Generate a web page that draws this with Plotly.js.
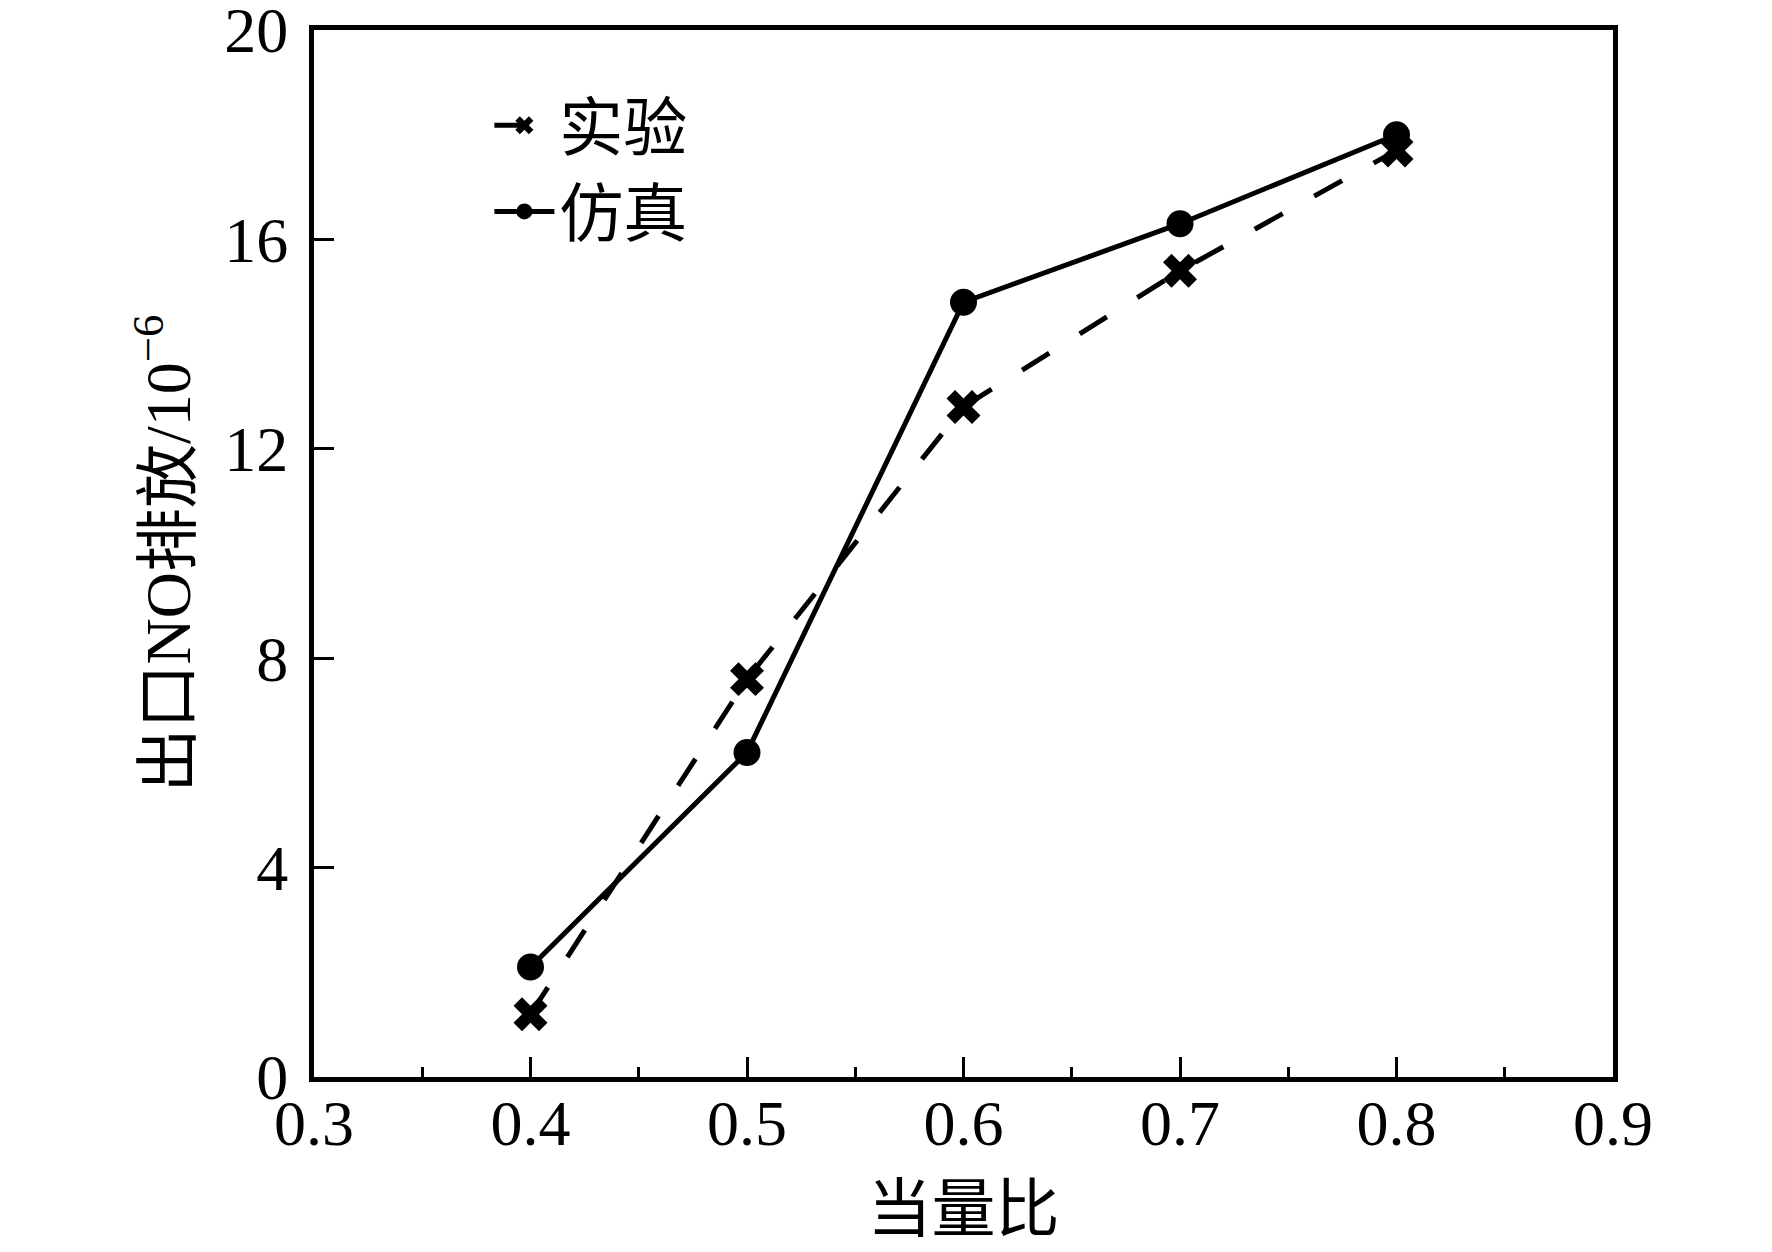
<!DOCTYPE html>
<html>
<head>
<meta charset="utf-8">
<script src="https://cdn.plot.ly/plotly-3.0.1.min.js"></script>
<style>
  html, body { margin: 0; padding: 0; background: #fff; }
  #chart { width: 1772px; height: 1252px; }
</style>
</head>
<body>
<div id="chart"></div>
<script>
// equivalence ratio vs outlet NO emission
const ratio = [0.4, 0.5, 0.6, 0.7, 0.8];
const expNO = [1.2, 7.6, 12.8, 15.4, 17.7];   // 实验
const simNO = [2.1, 6.2, 14.8, 16.3, 18.0];   // 仿真

const xTicks = [0.3, 0.4, 0.5, 0.6, 0.7, 0.8, 0.9];
const yTicks = [0, 4, 8, 12, 16, 20];

const fontFam = '"Liberation Serif", "Times New Roman", "Noto Sans CJK SC", serif';

let traceExp = {
    x: ratio,
    y: expNO,
    name: '实验',
    mode: 'lines+markers',
    line: { color: '#000', width: 5, dash: '32px,36px' },
    marker: { symbol: 'x', size: 30, color: '#000' }
};

let traceSim = {
    x: ratio,
    y: simNO,
    name: '仿真',
    mode: 'lines+markers',
    line: { color: '#000', width: 5 },
    marker: { symbol: 'circle', size: 27, color: '#000' }
};

let layout = {
    width: 1772,
    height: 1252,
    margin: { l: 314, r: 159, t: 30, b: 175 },
    paper_bgcolor: '#fff',
    plot_bgcolor: '#fff',
    font: { family: fontFam, size: 64, color: '#000' },
    showlegend: true,
    legend: {
        x: 0.135, y: 0.955,
        xanchor: 'left', yanchor: 'top',
        bgcolor: 'rgba(0,0,0,0)',
        font: { family: fontFam, size: 64, color: '#000' },
        tracegroupgap: 0,
        itemwidth: 60
    },
    xaxis: {
        range: [0.3, 0.9],
        tickvals: xTicks,
        ticktext: xTicks.map(v => v.toFixed(1)),
        ticks: 'inside',
        ticklen: 20,
        tickwidth: 3,
        tickcolor: '#000',
        minor: { dtick: 0.05, ticks: 'inside', ticklen: 10, tickwidth: 3, tickcolor: '#000' },
        showline: true,
        linewidth: 5,
        linecolor: '#000',
        mirror: true,
        showgrid: false,
        zeroline: false,
        ticklabelstandoff: -14,
        ticklabeloverflow: 'allow',
        title: { text: '当量比', standoff: 30, font: { family: fontFam, size: 64 } }
    },
    yaxis: {
        range: [0, 20],
        tickvals: yTicks,
        ticks: 'inside',
        ticklen: 20,
        tickwidth: 3,
        tickcolor: '#000',
        showline: true,
        linewidth: 5,
        linecolor: '#000',
        mirror: true,
        showgrid: false,
        zeroline: false,
        ticklabelstandoff: 8,
        ticklabeloverflow: 'allow',
        title: { text: '出口NO排放/10<sup>−6</sup>', standoff: 14, font: { family: fontFam, size: 64 } }
    }
};

Plotly.newPlot('chart', [traceExp, traceSim], layout, { displayModeBar: false, staticPlot: true });
</script>
</body>
</html>
